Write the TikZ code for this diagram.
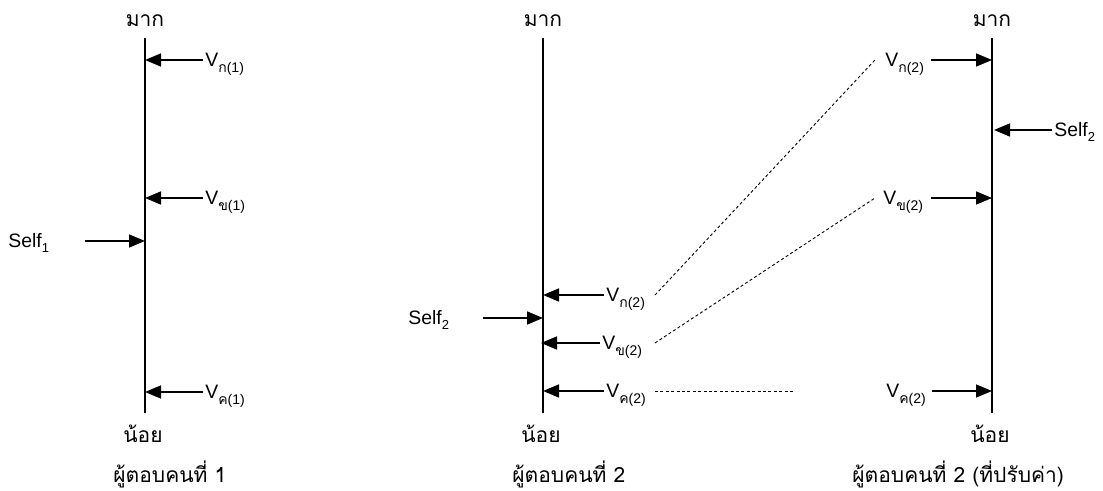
\documentclass[tikz,border=0pt]{standalone}
\usepackage{fontspec}
\setmainfont{Liberation Sans}
\newfontfamily\thaifont[Script=Thai]{Loma}
\usetikzlibrary{arrows.meta}
\newcommand{\vlab}[2]{V\raisebox{-0.55ex}{\fontsize{7}{8}\selectfont{\thaifont #1}(#2)}}
\newcommand{\slab}[1]{Self\raisebox{-0.45ex}{\fontsize{6.5}{7}\selectfont #1}}
\begin{document}
\begin{tikzpicture}[x=0.5pt,y=-0.5pt,
  axis/.style={line width=1pt},
  varrow/.style={line width=0.8pt,-{Triangle[length=8pt,width=6.5pt]}},
  link/.style={line width=0.45pt,dash pattern=on 1.5pt off 1.2pt},
  lab/.style={inner sep=0pt,font=\fontsize{9.7}{11}\selectfont},
  thlab/.style={inner sep=0pt,font=\fontsize{10.5}{12}\selectfont\thaifont}]
\useasboundingbox (0,0) rectangle (1103,491);

% ---------- panel 1 ----------
\node[thlab,anchor=base] (top1) at (145,27) {มาก};
\node[thlab,anchor=base] (bot1) at (143,443) {น้อย};
\node[thlab,anchor=base west] (cap1) at (113,482) {ผู้ตอบคนที่ 1};
\coordinate (t1) at (145,38);
\coordinate (e1) at (145,413);
\draw[axis] (t1) -- (e1);
\coordinate (p1a) at (145,60);
\coordinate (p1b) at (145,198);
\coordinate (p1s) at (145,241);
\coordinate (p1c) at (145,392);
\node[lab,anchor=base west] (v1a) at (205,67) {\vlab{ก}{1}};
\node[lab,anchor=base west] (v1b) at (205,205) {\vlab{ข}{1}};
\node[lab,anchor=base west] (v1c) at (205,399) {\vlab{ค}{1}};
\node[lab,anchor=base west] (s1) at (8,248) {\slab{1}};
\coordinate (s1t) at (85,241);
\draw[varrow] (v1a.west |- p1a) ++(-2,0) -- (p1a);
\draw[varrow] (v1b.west |- p1b) ++(-2,0) -- (p1b);
\draw[varrow] (v1c.west |- p1c) ++(-2,0) -- (p1c);
\draw[varrow] (s1t) -- (p1s);

% ---------- panel 2 ----------
\node[thlab,anchor=base] (top2) at (543,27) {มาก};
\node[thlab,anchor=base] (bot2) at (541,443) {น้อย};
\node[thlab,anchor=base west] (cap2) at (512,482) {ผู้ตอบคนที่ 2};
\coordinate (t2) at (543,38);
\coordinate (e2) at (543,413);
\draw[axis] (t2) -- (e2);
\coordinate (p2a) at (543,295);
\coordinate (p2s) at (543,318);
\coordinate (p2b) at (541,343);
\coordinate (p2c) at (543,391);
\node[lab,anchor=base west] (v2a) at (606,302) {\vlab{ก}{2}};
\node[lab,anchor=base west] (v2b) at (602,350) {\vlab{ข}{2}};
\node[lab,anchor=base west] (v2c) at (606,398) {\vlab{ค}{2}};
\node[lab,anchor=base west] (s2) at (408,325) {\slab{2}};
\coordinate (s2t) at (483,318);
\draw[varrow] (v2a.west |- p2a) ++(-2,0) -- (p2a);
\draw[varrow] (v2b.west |- p2b) ++(-2,0) -- (p2b);
\draw[varrow] (v2c.west |- p2c) ++(-2,0) -- (p2c);
\draw[varrow] (s2t) -- (p2s);

% ---------- panel 3 ----------
\node[thlab,anchor=base] (top3) at (992,27) {มาก};
\node[thlab,anchor=base] (bot3) at (990,443) {น้อย};
\node[thlab,anchor=base west] (cap3) at (852,482) {ผู้ตอบคนที่ 2 (ที่ปรับค่า)};
\coordinate (t3) at (992,38);
\coordinate (e3) at (992,413);
\draw[axis] (t3) -- (e3);
\coordinate (p3a) at (992,60);
\coordinate (p3s) at (994,130);
\coordinate (p3b) at (992,198);
\coordinate (p3c) at (992,391);
\node[lab,anchor=base west] (v3a) at (885,67) {\vlab{ก}{2}};
\node[lab,anchor=base west] (v3b) at (883,205) {\vlab{ข}{2}};
\node[lab,anchor=base west] (v3c) at (886,398) {\vlab{ค}{2}};
\node[lab,anchor=base west] (s3) at (1054,137) {\slab{2}};
\draw[varrow] (v3a.east |- p3a) ++(7,0) -- (p3a);
\draw[varrow] (v3b.east |- p3b) ++(8,0) -- (p3b);
\draw[varrow] (v3c.east |- p3c) ++(6,0) -- (p3c);
\draw[varrow] (s3.west |- p3s) ++(-2,0) -- (p3s);

% ---------- dashed links ----------
\coordinate (d1s) at (655,295);
\coordinate (d1e) at (875,60);
\coordinate (d2s) at (655,343);
\coordinate (d2e) at (875,198);
\coordinate (d3s) at (655,391);
\coordinate (d3e) at (795,391);
\draw[link] (d1s) -- (d1e);
\draw[link] (d2s) -- (d2e);
\draw[link] (d3s) -- (d3e);
\end{tikzpicture}
\end{document}
